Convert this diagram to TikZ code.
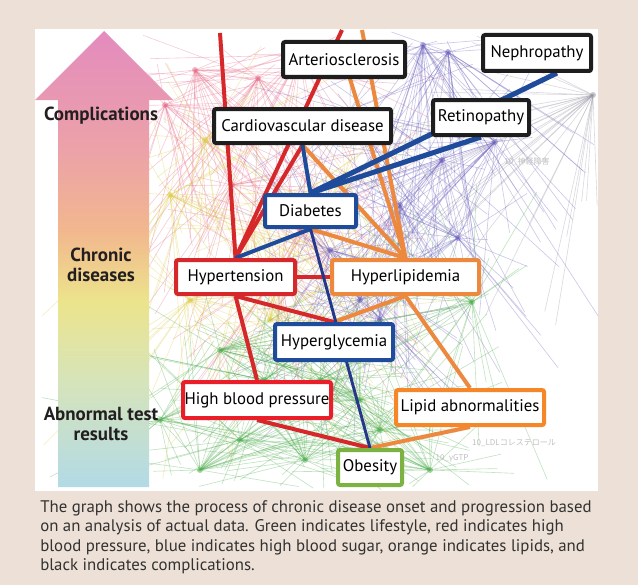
\documentclass[tikz,border=0pt]{standalone}
\usepackage{fontspec}
\setmainfont{PT Sans}
\newfontfamily\jpfont{Noto Sans CJK JP}

\definecolor{pagebeige}{RGB}{237,224,214}
\definecolor{stagetext}{RGB}{35,31,32}
\definecolor{captiontext}{RGB}{50,50,50}
\definecolor{hbred}{RGB}{214,40,42}
\definecolor{hbpred}{RGB}{233,30,40}
\definecolor{sugarblue}{RGB}{30,76,155}
\definecolor{navyline}{RGB}{36,55,138}
\definecolor{lipidorange}{RGB}{236,137,62}
\definecolor{labborange}{RGB}{245,135,40}
\definecolor{lifegreen}{RGB}{124,178,66}
\definecolor{complblack}{RGB}{30,30,30}
\definecolor{netpink}{RGB}{232,110,140}
\definecolor{netyellow}{RGB}{222,205,70}
\definecolor{netpurple}{RGB}{110,100,190}
\definecolor{netgreen}{RGB}{80,175,80}
\definecolor{netgray}{RGB}{150,150,165}
\definecolor{arrpink}{RGB}{227,139,190}
\definecolor{arrsalmon}{RGB}{236,162,168}
\definecolor{arrpeach}{RGB}{242,183,142}
\definecolor{arryellow}{RGB}{236,228,140}
\definecolor{arrpale}{RGB}{214,228,186}
\definecolor{arrblue}{RGB}{178,218,230}

\pgfdeclareverticalshading{stageshade}{100bp}{color(0bp)=(arrblue); color(25bp)=(arrblue);
  color(36.6bp)=(arrpale); color(45.4bp)=(arryellow); color(53.1bp)=(arrpeach);
  color(61.9bp)=(arrsalmon); color(75bp)=(arrpink); color(100bp)=(arrpink)}

\pgfdeclarelayer{net}
\pgfdeclarelayer{links}
\pgfsetlayers{net,links,main}

\begin{document}
\begin{tikzpicture}[x=0.75pt,y=-0.75pt,
  termbox/.style={draw=#1, line width=3pt, rounded corners=1.5pt, fill=white,
    inner sep=0pt, minimum height=26pt, font=\fontsize{12.6}{14}\selectfont},
  stagelabel/.style={font=\bfseries\fontsize{14.2}{15}\selectfont, text=stagetext, align=center},
  link/.style={line width=3pt},
  netline/.style={line width=0.45pt, opacity=0.36}]

\useasboundingbox (0,0) rectangle (638,585);

\begin{pgfonlayer}{net}
  \fill[pagebeige] (0,0) rectangle (638,585);
  \fill[white] (35,29) rectangle (598,491);
  % faint network of all test items
  \begin{scope}
    \clip (35,29) rectangle (598,491);
    \pgfmathsetseed{7}
    \foreach \hx/\hy/\col/\xa/\xb/\ya/\yb in {
        195/70/netpink/110/420/30/300, 258/78/netpink/110/430/30/320,
        165/105/netpink/100/380/30/280, 300/55/netpink/150/450/30/250,
        232/185/netpink/110/420/60/380, 300/230/netpink/150/450/100/420,
        280/270/netpink/160/440/120/440,
        205/140/netyellow/110/420/40/380, 170/195/netyellow/40/380/100/400,
        270/320/netyellow/150/480/180/480, 190/300/netyellow/40/420/200/480,
        345/175/netyellow/200/480/60/400, 250/230/netyellow/150/450/120/460,
        423/45/netpurple/300/600/30/330, 448/52/netpurple/300/600/30/300,
        593/95/netgray/330/600/30/340, 495/142/netpurple/300/560/40/340,
        442/160/netpurple/280/560/40/360, 458/238/netpurple/280/560/100/380,
        400/205/netpurple/250/520/60/420, 380/320/netpurple/220/480/150/450,
        350/110/netpurple/250/520/30/330, 330/250/netpurple/220/480/120/420,
        360/300/netpurple/240/470/150/440,
        220/350/netgreen/120/460/260/490, 240/440/netgreen/120/460/300/490,
        305/460/netgreen/150/500/300/490, 430/470/netgreen/250/520/320/490,
        200/470/netgreen/110/400/320/490, 360/400/netgreen/150/480/260/490,
        472/302/netgreen/300/560/180/480, 265/380/netgreen/130/450/250/490,
        160/420/netgreen/40/400/330/490, 320/380/netgreen/160/480/280/490,
        380/430/netgreen/200/520/300/490}{
      \foreach \k in {1,...,28}{
        \pgfmathsetmacro\ex{\xa+(\xb-\xa)*rnd}
        \pgfmathsetmacro\ey{\ya+(\yb-\ya)*rnd}
        \draw[netline,\col] (\hx,\hy) -- (\ex,\ey);
      }
      \fill[\col,opacity=0.55] (\hx,\hy) circle (2.2pt);
    }
  \end{scope}
  \node[text=black!25, font=\jpfont\fontsize{6}{7}\selectfont] (neurotag) at (527,162) {10\_神経障害};
  \node[text=black!25, font=\jpfont\fontsize{6}{7}\selectfont] (ldltag) at (514,443) {10\_LDLコレステロール};
  \node[text=black!25, font=\jpfont\fontsize{6}{7}\selectfont] (gtptag) at (452,458) {10\_γGTP};
\end{pgfonlayer}

% stage arrow
\shade[shading=stageshade] (104,31) -- (173,100) -- (149,100) -- (149,487)
  -- (58,487) -- (58,100) -- (35,100) -- cycle;
\node[stagelabel] (complic) at (101,116) {Complications};
\node[stagelabel] (chronic) at (101,265) {Chronic\\diseases};
\node[stagelabel] (abnormal) at (101,423.5) {Abnormal test\\results};

% disease boxes
\node[termbox=complblack, minimum width=91.5pt, minimum height=26.25pt] (arterio) at (344,59.5) {Arteriosclerosis};
\node[termbox=complblack, minimum width=81pt, minimum height=27pt] (nephro) at (537,53) {Nephropathy};
\node[termbox=complblack, minimum width=132.75pt, minimum height=25.5pt] (cardio) at (302.5,126) {Cardiovascular disease};
\node[termbox=complblack, minimum width=72pt, minimum height=26.25pt] (retino) at (481,117.5) {Retinopathy};
\node[termbox=sugarblue, minimum width=68.25pt, minimum height=24pt] (dia) at (310.5,211) {Diabetes};
\node[termbox=hbred, minimum width=89.25pt, minimum height=25.5pt] (hyper) at (235.5,277) {Hypertension};
\node[termbox=lipidorange, minimum width=110.25pt, minimum height=25.5pt] (lipid) at (405.5,277) {Hyperlipidemia};
\node[termbox=sugarblue, minimum width=88.5pt, minimum height=27pt] (hgly) at (334,342) {Hyperglycemia};
\node[termbox=hbpred, minimum width=111pt, minimum height=27pt] (hbp) at (257,400) {High blood pressure};
\node[termbox=labborange, minimum width=111pt, minimum height=26.25pt] (lipidab) at (470,407.5) {Lipid abnormalities};
\node[termbox=lifegreen, minimum width=48pt, minimum height=26.25pt] (obes) at (370,467.5) {Obesity};

% onset paths
\begin{pgfonlayer}{links}
  \coordinate (redtopA) at (220,33);
  \coordinate (redtopB) at (342,30);
  \coordinate (orgtop) at (362,30);
  \draw[link,lipidorange] (orgtop) -- (lipid.north);
  \draw[link,lipidorange] (arterio.center) -- (lipid.north);
  \draw[link,lipidorange] (cardio.south) -- (lipid.north);
  \draw[link,lipidorange] (dia.south) -- (lipid.north);
  \draw[link,lipidorange] (hgly.north) -- (lipid.south) -- (lipidab.north);
  \draw[link,lipidorange] (lipidab.south) -- (obes.north);
  \draw[link,hbred] (hyper.north) -- (redtopA);
  \draw[link,hbred] (hyper.north) -- (redtopB);
  \draw[link,hbred] (hyper.north) -- (cardio.south);
  \draw[link,hbred] (hyper.east) -- (lipid.west);
  \draw[link,hbred] (hyper.south) -- (hbp.north);
  \draw[link,hbred] (hyper.south) -- (hgly.north);
  \draw[link,hbred] (hbp.south) -- (obes.north);
  \draw[link,sugarblue] (hyper.north) -- (dia.south);
  \draw[link,sugarblue] (cardio.south) -- (dia.north);
  \draw[link,sugarblue,line width=3.8pt] (dia.north) -- (retino.south);
  \draw[link,sugarblue,line width=3.8pt] (dia.north) -- ([xshift=15pt]nephro.south);
  \draw[link,navyline,line width=2.2pt] (dia.south) -- (obes.north);
\end{pgfonlayer}

\node[anchor=north west, align=left, text=captiontext, font=\fontsize{12.6}{14.6}\selectfont,
  inner sep=0pt] (caption) at (40,500) {The graph shows the process of chronic disease onset and progression based\\
  on an analysis of actual data. Green indicates lifestyle, red indicates high\\
  blood pressure, blue indicates high blood sugar, orange indicates lipids, and\\
  black indicates complications.};
\end{tikzpicture}
\end{document}
